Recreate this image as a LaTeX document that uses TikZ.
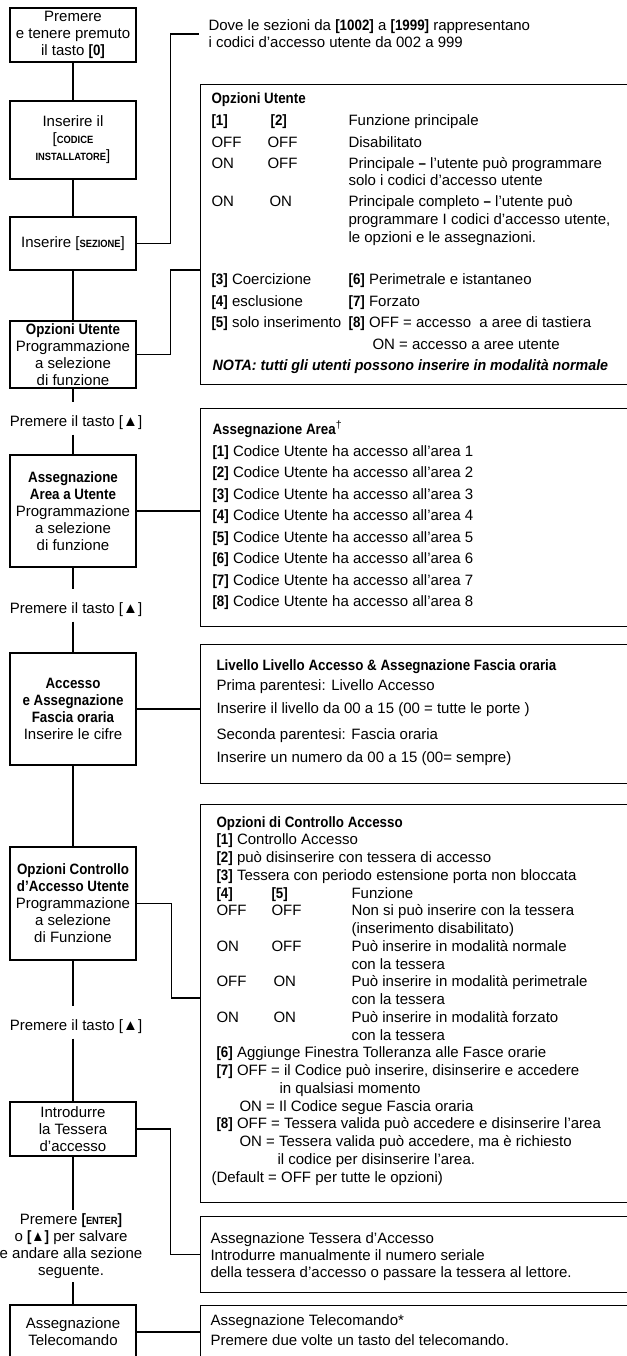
\documentclass[tikz,border=0pt]{standalone}
\usepackage{fontspec}
\setmainfont{Liberation Sans}[BoldFeatures={FakeStretch=0.89},BoldItalicFeatures={FakeStretch=0.95}]
\newcommand{\mysc}[1]{{\fontsize{10.5}{12}\selectfont\bfseries #1}}
\begin{document}
\begin{tikzpicture}[x=1pt,y=-1pt,line width=1.1pt,
			every node/.style={font=\fontsize{15}{17}\selectfont},
			lbox/.style={draw,align=center,minimum width=126pt,inner sep=0pt},
			rbox/.style={draw,anchor=north west,minimum width=450pt,inner sep=0pt},
			riga/.style={anchor=base west,inner sep=0pt},
			passo/.style={anchor=base,inner xsep=0pt,inner ysep=3pt,text height=20pt,text depth=5pt}]
			\def\myflcx{73}\def\myflrx{200}\def\myflrd{827}\def\myfldy{17.75}
			\useasboundingbox (0,0) rectangle (626,1356);
			% colonna sinistra
			\node[lbox,minimum height=54pt] (myflba) at (\myflcx,35) {Premere\\e tenere premuto\\il tasto \textbf{[0]}};
			\node[lbox,minimum height=78pt] (myflbb) at (\myflcx,140) {Inserire il\\{[}\mysc{CODICE}\\\mysc{INSTALLATORE}{]}};
			\node[lbox,minimum height=53pt] (myflbc) at (\myflcx,243.5) {Inserire [\mysc{SEZIONE}]};
			\node[lbox,minimum height=67pt] (myflbd) at (\myflcx,354.5) {\textbf{Opzioni Utente}\\Programmazione\\a selezione\\di funzione};
			\node[lbox,minimum height=112pt] (myflbe) at (\myflcx,511) {\textbf{Assegnazione}\\\textbf{Area a Utente}\\Programmazione\\a selezione\\di funzione};
			\node[lbox,minimum height=112pt] (myflbf) at (\myflcx,709) {\textbf{Accesso}\\\textbf{e Assegnazione}\\\textbf{Fascia oraria}\\Inserire le cifre};
			\node[lbox,minimum height=113pt] (myflbg) at (\myflcx,903.5) {\textbf{Opzioni Controllo}\\\textbf{d’Accesso Utente}\\Programmazione\\a selezione\\di Funzione};
			\node[lbox,minimum height=54pt] (myflbh) at (\myflcx,1129) {Introdurre\\la Tessera\\d’accesso};
			\node[lbox,minimum height=54pt] (myflbi) at (\myflcx,1332) {Assegnazione\\Telecomando};
			\node[passo] (myflpa) at (76,426) {Premere il tasto [▲]};
			\node[passo] (myflpb) at (76,613) {Premere il tasto [▲]};
			\node[passo] (myflpc) at (76,1030) {Premere il tasto [▲]};
			\node[align=center,inner xsep=0pt,inner ysep=3pt] (myflpd) at (71,1246) {Premere \textbf{[}\mysc{ENTER}\textbf{]}\\o \textbf{[▲]} per salvare\\e andare alla sezione\\seguente.};
			\draw (myflba) -- (myflbb) (myflbb) -- (myflbc) (myflbc) -- (myflbd)
			(myflbd.south) -- (myflpa.north -| myflbd.south) (myflpa.south -| myflbe.north) -- (myflbe.north)
			(myflbe.south) -- (myflpb.north -| myflbe.south) (myflpb.south -| myflbf.north) -- (myflbf.north)
			(myflbf) -- (myflbg)
			(myflbg.south) -- (myflpc.north -| myflbg.south) (myflpc.south -| myflbh.north) -- (myflbh.north)
			(myflbh.south) -- (myflpd.north -| myflbh.south) (myflpd.south -| myflbi.north) -- (myflbi.north);
			% riquadri a destra
			\node[anchor=west,align=left,inner xsep=9pt,inner ysep=0pt] (myflnota) at (199,34) {Dove le sezioni da \textbf{[1002]} a \textbf{[1999]} rappresentano\\i codici d’accesso utente da 002 a 999};
			\node[rbox,minimum height=300pt] (myflra) at (\myflrx,84) {};
			\node[rbox,minimum height=218pt] (myflrb) at (\myflrx,408) {};
			\node[rbox,minimum height=139pt] (myflrc) at (\myflrx,644) {};
			\node[rbox,minimum height=398pt] (myflrd) at (\myflrx,804) {};
			\node[rbox,minimum height=76pt] (myflre) at (\myflrx,1216) {};
			\node[rbox,minimum height=90pt] (myflrf) at (\myflrx,1305) {};
			\coordinate (myflka) at (\myflrx,270);
			\coordinate (myflkb) at (\myflrx,998);
			\draw (myflbc.east) -- ++(34,0) |- (myflnota.west);
			\draw (myflbd.east) -- ++(34,0) |- (myflka);
			\draw (myflbe.east) -- (myflbe.east -| myflrb.west);
			\draw (myflbf.east) -- (myflbf.east -| myflrc.west);
			\draw (myflbg.east) -- ++(35,0) |- (myflkb);
			\draw (myflbh.east) -- ++(34,0) |- (myflre.west);
			\draw (myflbi.east) -- (myflbi.east -| myflrf.west);
			% Opzioni Utente
			\draw (211,104) node[riga] (myflua) {\textbf{Opzioni Utente}}
			(211,126) node[riga] (myflub) {\textbf{[1]}} (270,126) node[riga] (myfluc) {\textbf{[2]}} (348,126) node[riga] (myflud) {Funzione principale}
			(211,148) node[riga] (myflue) {OFF} (267,148) node[riga] (myfluf) {OFF} (348,148) node[riga] (myflug) {Disabilitato}
			(211,169) node[riga] (myfluh) {ON} (267,169) node[riga] (myflui) {OFF} (348,169) node[riga] (myfluj) {Principale \textbf{–} l’utente può programmare}
			(348,186) node[riga] (myfluk) {solo i codici d’accesso utente}
			(211,207) node[riga] (myflul) {ON} (269,207) node[riga] (myflum) {ON} (348,207) node[riga] (myflun) {Principale completo \textbf{–} l’utente può}
			(348,225) node[riga] (myfluo) {programmare I codici d’accesso utente,}
			(348,243) node[riga] (myflup) {le opzioni e le assegnazioni.}
			(211,284) node[riga] (myfluq) {\textbf{[3]} Coercizione} (348,284) node[riga] (myflur) {\textbf{[6]} Perimetrale e istantaneo}
			(211,306) node[riga] (myflus) {\textbf{[4]} esclusione} (348,306) node[riga] (myflut) {\textbf{[7]} Forzato}
			(211,327) node[riga] (myfluu) {\textbf{[5]} solo inserimento} (348,327) node[riga] (myfluv) {\textbf{[8]} OFF = accesso\ \ a aree di tastiera}
			(372,349) node[riga] (myfluw) {ON = accesso a aree utente}
			(212,370) node[riga] (myflux) {\textbf{\itshape NOTA: tutti gli utenti possono inserire in modalità normale}};
			% Assegnazione Area
			\draw (212,434) node[riga] (myflaa) {\textbf{Assegnazione Area}\textsuperscript{†}}
			(212,456) node[riga] (myflab) {\textbf{[1]} Codice Utente ha accesso all’area 1}
			(212,477.5) node[riga] (myflac) {\textbf{[2]} Codice Utente ha accesso all’area 2}
			(212,499) node[riga] (myflad) {\textbf{[3]} Codice Utente ha accesso all’area 3}
			(212,520.5) node[riga] (myflae) {\textbf{[4]} Codice Utente ha accesso all’area 4}
			(212,542) node[riga] (myflaf) {\textbf{[5]} Codice Utente ha accesso all’area 5}
			(212,563.5) node[riga] (myflag) {\textbf{[6]} Codice Utente ha accesso all’area 6}
			(212,585) node[riga] (myflah) {\textbf{[7]} Codice Utente ha accesso all’area 7}
			(212,606.5) node[riga] (myflai) {\textbf{[8]} Codice Utente ha accesso all’area 8};
			% Livello accesso
			\draw (216,670) node[riga] (myflla) {\textbf{Livello Livello Accesso \& Assegnazione Fascia oraria}}
			(216,690) node[riga] (myfllb) {Prima parentesi: Livello Accesso}
			(216,713) node[riga] (myfllc) {Inserire il livello da 00 a 15 (00 = tutte le porte )}
			(216,739) node[riga] (myflld) {Seconda parentesi: Fascia oraria}
			(216,762) node[riga] (myflle) {Inserire un numero da 00 a 15 (00= sempre)};
			% Controllo accesso
			\draw (216,\myflrd) node[riga] (myflca) {\textbf{Opzioni di Controllo Accesso}}
			(216,\myflrd+\myfldy) node[riga] (myflcb) {\textbf{[1]} Controllo Accesso}
			(216,\myflrd+2*\myfldy) node[riga] (myflcc) {\textbf{[2]} può disinserire con tessera di accesso}
			(216,\myflrd+3*\myfldy) node[riga] (myflcd) {\textbf{[3]} Tessera con periodo estensione porta non bloccata}
			(216,\myflrd+4*\myfldy) node[riga] (myflce) {\textbf{[4]}} (271,\myflrd+4*\myfldy) node[riga] (myflcf) {\textbf{[5]}} (351,\myflrd+4*\myfldy) node[riga] (myflcg) {Funzione}
			(216,\myflrd+5*\myfldy) node[riga] (myflch) {OFF} (271,\myflrd+5*\myfldy) node[riga] (myflci) {OFF} (351,\myflrd+5*\myfldy) node[riga] (myflcj) {Non si può inserire con la tessera}
			(351,\myflrd+6*\myfldy) node[riga] (myflck) {(inserimento disabilitato)}
			(216,\myflrd+7*\myfldy) node[riga] (myflcl) {ON} (271,\myflrd+7*\myfldy) node[riga] (myflcm) {OFF} (351,\myflrd+7*\myfldy) node[riga] (myflcn) {Può inserire in modalità normale}
			(351,\myflrd+8*\myfldy) node[riga] (myflco) {con la tessera}
			(216,\myflrd+9*\myfldy) node[riga] (myflcp) {OFF} (273,\myflrd+9*\myfldy) node[riga] (myflcq) {ON} (351,\myflrd+9*\myfldy) node[riga] (myflcr) {Può inserire in modalità perimetrale}
			(351,\myflrd+10*\myfldy) node[riga] (myflcs) {con la tessera}
			(216,\myflrd+11*\myfldy) node[riga] (myflct) {ON} (273,\myflrd+11*\myfldy) node[riga] (myflcu) {ON} (351,\myflrd+11*\myfldy) node[riga] (myflcv) {Può inserire in modalità forzato}
			(351,\myflrd+12*\myfldy) node[riga] (myflcw) {con la tessera}
			(216,\myflrd+13*\myfldy) node[riga] (myflcx) {\textbf{[6]} Aggiunge Finestra Tolleranza alle Fasce orarie}
			(216,\myflrd+14*\myfldy) node[riga] (myflcy) {\textbf{[7]} OFF = il Codice può inserire, disinserire e accedere}
			(279,\myflrd+15*\myfldy) node[riga] (myflcz) {in qualsiasi momento}
			(239,\myflrd+16*\myfldy) node[riga] (myflda) {ON = Il Codice segue Fascia oraria}
			(216,\myflrd+17*\myfldy) node[riga] (myfldb) {\textbf{[8]} OFF = Tessera valida può accedere e disinserire l’area}
			(239,\myflrd+18*\myfldy) node[riga] (myfldc) {ON = Tessera valida può accedere, ma è richiesto}
			(277,\myflrd+19*\myfldy) node[riga] (myfldd) {il codice per disinserire l’area.}
			(211,\myflrd+20*\myfldy) node[riga] (myflde) {(Default = OFF per tutte le opzioni)};
			% Tessera e telecomando
			\draw (210,1243) node[riga] (myflta) {Assegnazione Tessera d’Accesso}
			(210,1260) node[riga] (myfltb) {Introdurre manualmente il numero seriale}
			(210,1277) node[riga] (myfltc) {della tessera d’accesso o passare la tessera al lettore.}
			(210,1325) node[riga] (myfltd) {Assegnazione Telecomando*}
			(210,1345) node[riga] (myflte) {Premere due volte un tasto del telecomando.};
		\end{tikzpicture}
\end{document}
